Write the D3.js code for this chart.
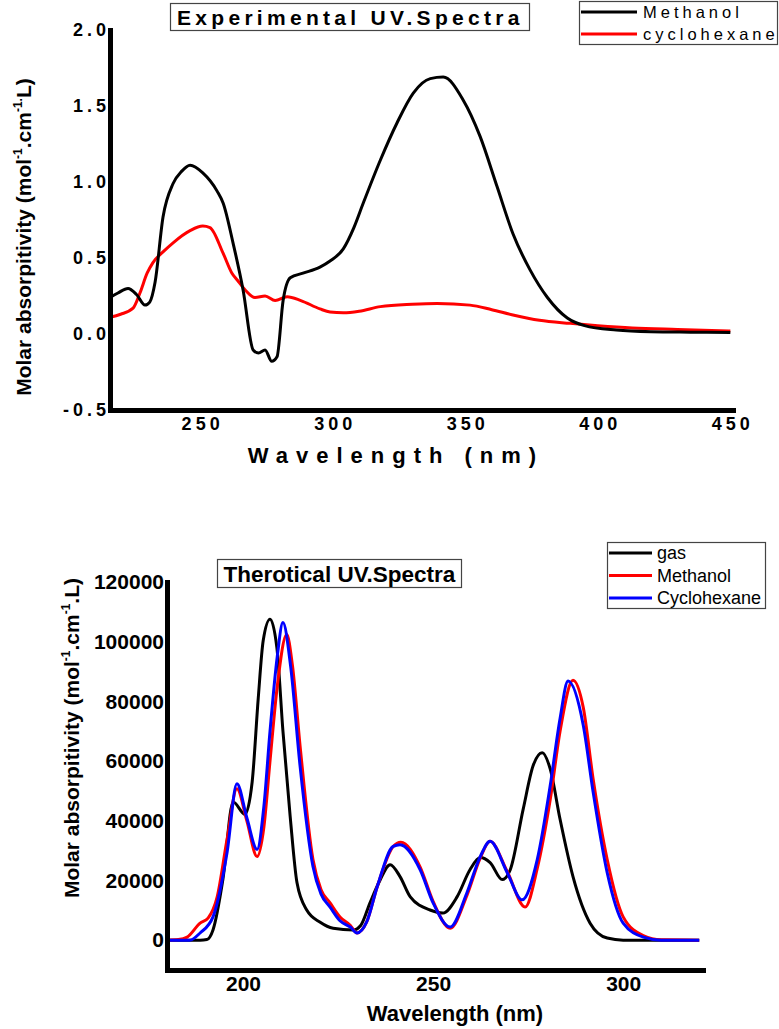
<!DOCTYPE html>
<html>
<head>
<meta charset="utf-8">
<script src="https://cdn.jsdelivr.net/npm/d3@7"></script>
<style>
  html, body { margin: 0; padding: 0; background: #fff; }
  svg { display: block; }
  text { font-family: "Liberation Sans", Arial, sans-serif; }
</style>
</head>
<body>
<svg id="chart" width="779" height="1029"></svg>
<script>
// ---------- Experimental spectra (top) ----------
const expTitle = "Experimental UV.Spectra";
const expSeriesNames = ["Methanol", "cyclohexane"];
const expXTicks = [250, 300, 350, 400, 450];
const expYTicks = [-0.5, 0.0, 0.5, 1.0, 1.5, 2.0];

const expMeOH_x = [216, 219, 222.8, 226, 229.2, 231, 233, 236, 239.8, 243, 246.2, 251, 256.4, 258.7, 262.4, 266.2, 270, 272, 274.5, 277, 279, 281.3, 284, 288.8, 295.2, 299, 304, 308, 311.5, 318, 324.3, 330.4, 336.8, 341.7, 349.2, 355.6, 362, 368, 374.5, 381, 388.5, 395, 407, 420, 435, 450];
const expMeOH_y = [0.24, 0.27, 0.30, 0.26, 0.19, 0.21, 0.34, 0.77, 0.99, 1.07, 1.11, 1.06, 0.94, 0.86, 0.60, 0.29, -0.105, -0.125, -0.105, -0.18, -0.15, 0.22, 0.37, 0.40, 0.44, 0.48, 0.56, 0.70, 0.86, 1.145, 1.39, 1.585, 1.68, 1.69, 1.54, 1.30, 0.97, 0.66, 0.42, 0.24, 0.105, 0.055, 0.026, 0.015, 0.012, 0.01];

const expCyc_x = [216, 220, 224.7, 227.3, 230, 232.2, 236, 239.8, 246.2, 251, 253.7, 258.7, 262, 264, 267, 270.7, 274.5, 278.3, 282.8, 288, 295.2, 299, 304, 310, 318, 330, 339.4, 351.8, 360, 368, 378, 389.6, 400, 413, 430, 450];
const expCyc_y = [0.11, 0.13, 0.17, 0.27, 0.40, 0.47, 0.54, 0.60, 0.68, 0.71, 0.70, 0.53, 0.40, 0.355, 0.29, 0.24, 0.25, 0.22, 0.245, 0.22, 0.165, 0.145, 0.14, 0.15, 0.18, 0.195, 0.20, 0.19, 0.16, 0.125, 0.09, 0.07, 0.055, 0.04, 0.03, 0.02];

// ---------- Theoretical spectra (bottom) ----------
const theoTitle = "Therotical UV.Spectra";
const theoSeriesNames = ["gas", "Methanol", "Cyclohexane"];
const theoXTicks = [200, 250, 300];
const theoYTicks = [0, 20000, 40000, 60000, 80000, 100000, 120000];

const gas_x = [180, 188.7, 190.5, 192.1, 194.7, 197.4, 200.5, 202.4, 204, 205.3, 207.1, 208.9, 210.5, 212.4, 214.2, 216.8, 220.3, 223.7, 229, 231, 233.4, 236, 238.7, 241.3, 244, 249.2, 252.6, 256.3, 259.7, 262.4, 265, 268.2, 270.3, 273.7, 276.3, 278.7, 280.8, 283.4, 286.8, 291.3, 295.8, 300, 320];
const gas_y = [0, 0, 200, 3400, 20300, 46300, 42200, 53000, 81000, 100300, 107500, 98000, 70000, 41500, 19200, 10000, 6000, 4000, 3400, 5000, 12500, 20000, 25300, 21300, 14500, 10100, 9100, 14500, 23600, 27700, 26000, 20300, 23600, 43900, 58400, 62800, 57400, 40500, 21300, 5700, 700, 0, 0];

const meoh_x = [180, 183, 185.3, 188.7, 190.8, 193.2, 195.8, 198.4, 201, 203.7, 205.5, 207.1, 209, 211.5, 213, 215, 218.4, 220.5, 222.9, 225.5, 228.2, 230, 232.5, 235.3, 239.5, 241.5, 246.6, 250, 254.5, 258.9, 262.4, 265, 269.5, 274.2, 277.4, 280.8, 283.4, 286.8, 289.5, 292.1, 295.8, 300, 305.3, 310, 320];
const meoh_y = [0, 200, 1000, 5700, 7400, 14500, 33800, 50700, 40000, 28000, 38000, 60000, 85000, 102400, 92000, 65200, 27000, 17000, 12500, 7800, 5000, 2400, 6000, 17900, 31400, 32800, 24500, 13000, 4000, 15000, 27500, 33100, 23000, 11100, 24000, 47000, 70000, 87100, 78000, 54000, 27000, 7800, 1500, 100, 0];

const cyc_x = [180, 186, 188.7, 192.1, 195.8, 198.4, 201, 203.7, 205.5, 207.1, 209, 210.5, 212.5, 215, 218.4, 220.5, 222.9, 225.5, 228.2, 230, 232.5, 235.3, 239.5, 241.3, 246.6, 250, 254.5, 258.9, 262.4, 265, 269.5, 273.4, 277.4, 280.8, 283.4, 285.5, 289.5, 292.1, 295.8, 300, 305.3, 310, 320];
const cyc_y = [0, 0, 2400, 7800, 29400, 52400, 41000, 30400, 45000, 70000, 95000, 106400, 92000, 58400, 24700, 15500, 11100, 6500, 4400, 2400, 6000, 17900, 31400, 32000, 23600, 12500, 4400, 15900, 28000, 33100, 22600, 13500, 27000, 51700, 74300, 86800, 72000, 49600, 22600, 5700, 1000, 0, 0];

const zip = (xs, ys) => xs.map((x, i) => [x, ys[i]]);

const svg = d3.select("#chart");
const FONT = '"Liberation Sans", Arial, sans-serif';

// ================= TOP CHART =================
const xE = d3.scaleLinear().domain([216, 451]).range([110, 733]);
const yE = d3.scaleLinear().domain([-0.5, 2.0]).range([410, 30]);

const gTop = svg.append("g");

const lineE = d3.line().x(d => xE(d[0])).y(d => yE(d[1])).curve(d3.curveMonotoneX);
gTop.append("path").datum(zip(expCyc_x, expCyc_y)).attr("d", lineE)
  .attr("fill", "none").attr("stroke", "#ff0000").attr("stroke-width", 3);
gTop.append("path").datum(zip(expMeOH_x, expMeOH_y)).attr("d", lineE)
  .attr("fill", "none").attr("stroke", "#000").attr("stroke-width", 3);

const fmtE = d => d.toFixed(1);
const axEx = gTop.append("g").attr("transform", `translate(0,${yE.range()[0]})`)
  .call(d3.axisBottom(xE).tickValues(expXTicks).tickSize(0).tickSizeOuter(0).tickPadding(7).tickFormat(d => String(d)));
const axEy = gTop.append("g").attr("transform", `translate(${xE.range()[0]},0)`)
  .call(d3.axisLeft(yE).tickValues(expYTicks).tickSize(0).tickSizeOuter(0).tickPadding(0).tickFormat(fmtE));
[axEx, axEy].forEach(a => {
  a.select(".domain").attr("stroke", "#000").attr("stroke-width", 5).attr("stroke-linecap", "square");
  a.selectAll("text").attr("font-family", FONT).attr("font-weight", "bold")
    .attr("font-size", 18).attr("letter-spacing", "4px").attr("fill", "#000");
});
axEx.selectAll("text").attr("dx", "2px");

gTop.append("text").attr("x", 396).attr("y", 463).attr("text-anchor", "middle")
  .attr("font-family", FONT).attr("font-weight", "bold").attr("font-size", 22)
  .attr("letter-spacing", "8px").text("Wavelength (nm)");

const yTitleTop = gTop.append("text").attr("transform", "translate(31,237) rotate(-90)")
  .attr("text-anchor", "middle").attr("font-family", FONT).attr("font-weight", "bold").attr("font-size", 21);
yTitleTop.append("tspan").text("Molar absorpitivity (mol");
yTitleTop.append("tspan").attr("dy", -9).attr("font-size", 12).text("-1");
yTitleTop.append("tspan").attr("dy", 9).text(".cm");
yTitleTop.append("tspan").attr("dy", -9).attr("font-size", 12).text("-1.");
yTitleTop.append("tspan").attr("dy", 9).text("L)");

// title box
gTop.append("rect").attr("x", 170.5).attr("y", 3.5).attr("width", 359).attr("height", 27)
  .attr("fill", "#fff").attr("stroke", "#444").attr("stroke-width", 1.2);
gTop.append("text").attr("x", 177).attr("y", 25).attr("font-family", FONT).attr("font-weight", "bold")
  .attr("font-size", 21).attr("letter-spacing", "4.3px").text(expTitle);

// legend
gTop.append("rect").attr("x", 579.5).attr("y", 1.5).attr("width", 198).attr("height", 43)
  .attr("fill", "#fff").attr("stroke", "#444").attr("stroke-width", 1.2);
const expColors = ["#000", "#ff0000"];
expSeriesNames.forEach((n, i) => {
  const yy = 12 + i * 22;
  gTop.append("line").attr("x1", 581).attr("x2", 637).attr("y1", yy).attr("y2", yy)
    .attr("stroke", expColors[i]).attr("stroke-width", 3);
  gTop.append("text").attr("x", 643).attr("y", yy + 6).attr("font-family", FONT)
    .attr("font-size", 16.5).attr("letter-spacing", "4px").text(n);
});

// ================= BOTTOM CHART =================
const xT = d3.scaleLinear().domain([180, 321]).range([167, 703]);
const yT = d3.scaleLinear().domain([-10000, 120000]).range([970, 582]);

const gBot = svg.append("g");
const lineT = d3.line().x(d => xT(d[0])).y(d => yT(d[1])).curve(d3.curveMonotoneX);
const theoData = [zip(gas_x, gas_y), zip(meoh_x, meoh_y), zip(cyc_x, cyc_y)];
const theoColors = ["#000", "#ff0000", "#0000ff"];
theoData.forEach((d, i) => {
  gBot.append("path").datum(d).attr("d", lineT).attr("fill", "none")
    .attr("stroke", theoColors[i]).attr("stroke-width", 3);
});

const axTx = gBot.append("g").attr("transform", `translate(0,${yT.range()[0]})`)
  .call(d3.axisBottom(xT).tickValues(theoXTicks).tickSize(0).tickSizeOuter(0).tickPadding(6).tickFormat(d => String(d)));
const axTy = gBot.append("g").attr("transform", `translate(${xT.range()[0]},0)`)
  .call(d3.axisLeft(yT).tickValues(theoYTicks).tickSize(0).tickSizeOuter(0).tickPadding(3).tickFormat(d => String(d)));
[axTx, axTy].forEach(a => {
  a.select(".domain").attr("stroke", "#000").attr("stroke-width", 5).attr("stroke-linecap", "square");
  a.selectAll("text").attr("font-family", FONT).attr("font-weight", "bold")
    .attr("font-size", 21).attr("fill", "#000");
});

gBot.append("text").attr("x", 455).attr("y", 1021).attr("text-anchor", "middle")
  .attr("font-family", FONT).attr("font-weight", "bold").attr("font-size", 22).text("Wavelength (nm)");

const yTitleBot = gBot.append("text").attr("transform", "translate(79,738) rotate(-90)")
  .attr("text-anchor", "middle").attr("font-family", FONT).attr("font-weight", "bold").attr("font-size", 21);
yTitleBot.append("tspan").text("Molar absorpitivity (mol");
yTitleBot.append("tspan").attr("dy", -9).attr("font-size", 12).text("-1");
yTitleBot.append("tspan").attr("dy", 9).text(".cm");
yTitleBot.append("tspan").attr("dy", -9).attr("font-size", 12).text("-1");
yTitleBot.append("tspan").attr("dy", 9).text(".L)");

gBot.append("rect").attr("x", 217.5).attr("y", 559.5).attr("width", 244).attr("height", 28)
  .attr("fill", "#fff").attr("stroke", "#444").attr("stroke-width", 1.2);
gBot.append("text").attr("x", 339.5).attr("y", 582).attr("text-anchor", "middle").attr("font-family", FONT)
  .attr("font-weight", "bold").attr("font-size", 22.5).text(theoTitle);

gBot.append("rect").attr("x", 607.5).attr("y", 542.5).attr("width", 158).attr("height", 66)
  .attr("fill", "#fff").attr("stroke", "#444").attr("stroke-width", 1.2);
theoSeriesNames.forEach((n, i) => {
  const yy = 553 + i * 22.5;
  gBot.append("line").attr("x1", 609).attr("x2", 652).attr("y1", yy).attr("y2", yy)
    .attr("stroke", theoColors[i]).attr("stroke-width", 3);
  gBot.append("text").attr("x", 657).attr("y", yy + 6).attr("font-family", FONT)
    .attr("font-size", 18).text(n);
});
</script>
</body>
</html>
